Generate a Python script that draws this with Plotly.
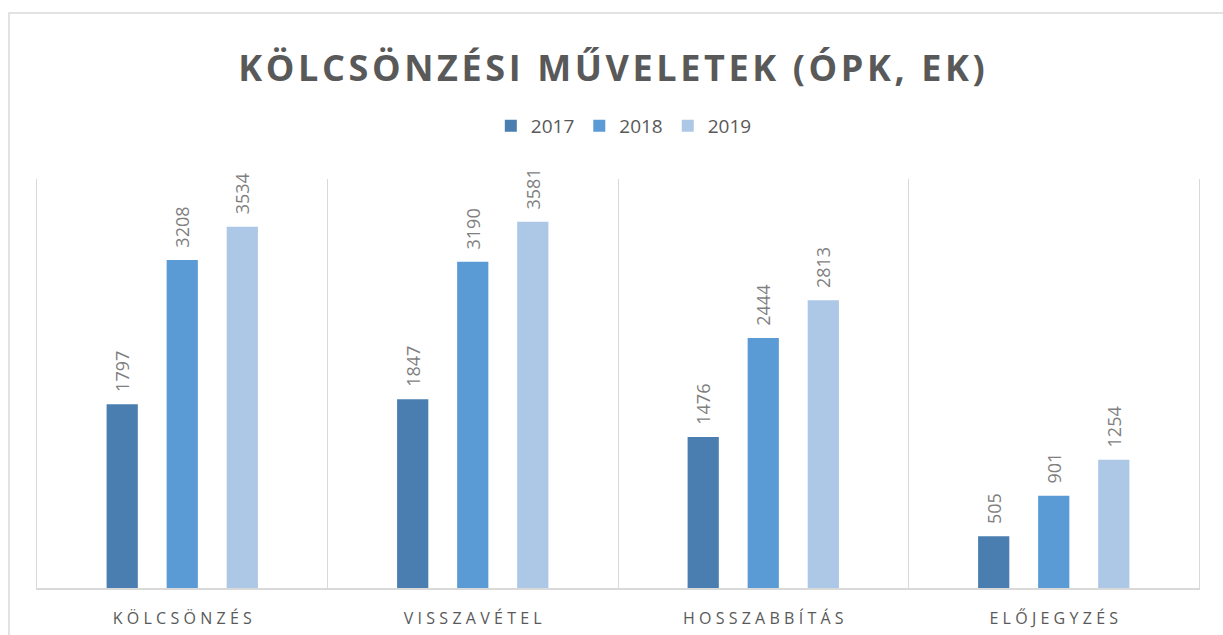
import plotly.graph_objects as go

# Data
categories = ["KÖLCSÖNZÉS", "VISSZAVÉTEL", "HOSSZABBÍTÁS", "ELŐJEGYZÉS"]
years = ["2017", "2018", "2019"]
values_2017 = [1797, 1847, 1476, 505]
values_2018 = [3208, 3190, 2444, 901]
values_2019 = [3534, 3581, 2813, 1254]

series = [values_2017, values_2018, values_2019]
colors = ["#4A7EB0", "#5B9BD5", "#ADC7E7"]

title_text = "KÖLCSÖNZÉSI MŰVELETEK (ÓPK, EK)"

# Excel spaces the letters out; mimic with thin / hair spaces
tick_text = ["\u2009\u200a".join(c) for c in categories]
title_spaced = "\u200a".join(title_text)

fig = go.Figure()
for year, vals, col in zip(years, series, colors):
    fig.add_trace(
        go.Bar(
            x=categories,
            y=vals,
            name=year,
            marker=dict(color=col, line=dict(width=0)),
            text=["\u00a0\u00a0" + str(v) for v in vals],
            textposition="outside",
            textangle=-90,
            constraintext="none",
            textfont=dict(family="Open Sans, sans-serif", size=18, color="#7F7F7F"),
            cliponaxis=False,
        )
    )

fig.update_layout(
    width=1223,
    height=635,
    barmode="group",
    bargap=0.38,
    bargroupgap=0.48,
    paper_bgcolor="white",
    plot_bgcolor="white",
    margin=dict(l=37, r=24, t=179, b=47),
    title=dict(
        text="<b>" + title_spaced + "</b>",
        x=0.5,
        xanchor="center",
        y=0.893,
        yanchor="middle",
        font=dict(family="Open Sans, sans-serif", size=36, color="#595959"),
    ),
    legend=dict(
        orientation="h",
        x=0.505,
        xanchor="center",
        y=1.13,
        yanchor="middle",
        font=dict(family="Open Sans, sans-serif", size=19, color="#595959"),
        itemwidth=30,
        traceorder="normal",
    ),
    xaxis=dict(
        type="category",
        tickson="boundaries",
        automargin=False,
        showgrid=True,
        gridcolor="#D9D9D9",
        gridwidth=1,
        showline=True,
        linecolor="#D9D9D9",
        linewidth=1.5,
        ticks="",
        tickvals=categories,
        ticktext=tick_text,
        ticklabelstandoff=15,
        tickfont=dict(family="Open Sans, sans-serif", size=16, color="#595959"),
    ),
    yaxis=dict(
        range=[0, 4000],
        automargin=False,
        showticklabels=False,
        showgrid=False,
        zeroline=False,
        showline=True,
        mirror=True,
        linecolor="#D9D9D9",
        linewidth=1,
        ticks="",
    ),
    shapes=[
        dict(
            type="rect",
            xref="paper",
            yref="paper",
            x0=-0.0241,
            x1=1.03,
            y0=-0.16,
            y1=1.406,
            line=dict(color="#D9D9D9", width=1.5),
            fillcolor="rgba(0,0,0,0)",
            layer="below",
        )
    ],
)

# drop the browser's default 8px body margin so the figure sits at 0,0
fig.write_html(
    "out.html",
    config={"displayModeBar": False},
    post_script="document.body.style.margin='0';",
)
